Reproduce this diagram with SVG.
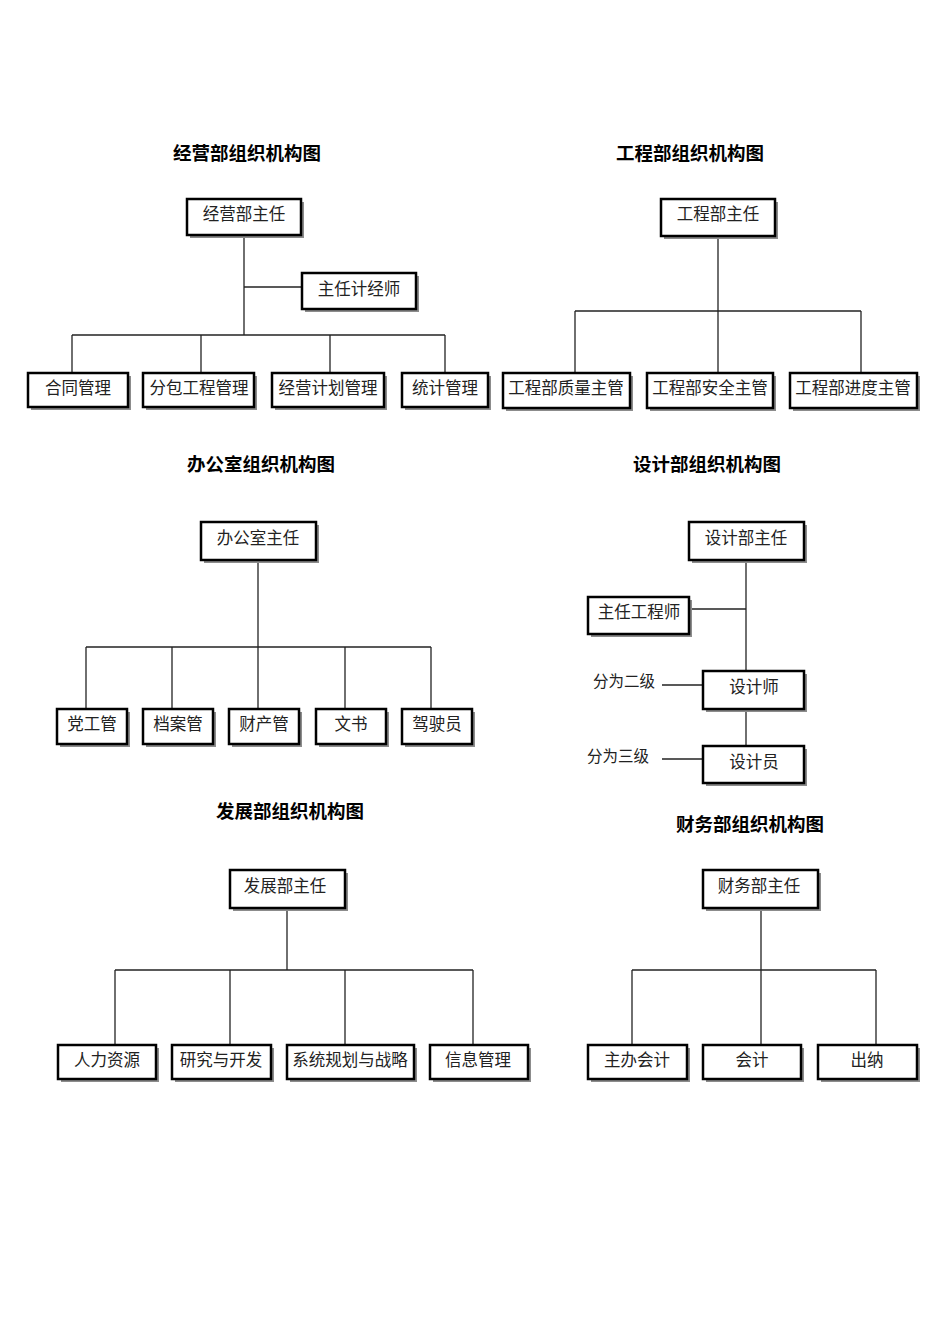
<svg xmlns="http://www.w3.org/2000/svg" width="950" height="1344" viewBox="0 0 950 1344">
<style>
.bg{fill:#ffffff}
.sh{fill:#8c8c8c}
.bx{fill:#ffffff;stroke:#000;stroke-width:2.5}
.t{font-family:"Liberation Serif","Noto Sans CJK SC",serif;font-size:16.5px;fill:#222;text-anchor:middle}
.ttl{font-family:"Noto Sans CJK SC",sans-serif;font-size:18.5px;font-weight:bold;fill:#000;text-anchor:middle}
.lb{font-family:"Liberation Serif","Noto Sans CJK SC",serif;font-size:15.5px;fill:#222;text-anchor:middle}
#connectors line{stroke:#222;stroke-width:1.3}
</style>
<rect class="bg" x="0" y="0" width="950" height="1344"/>

<g id="titles">
<text class="ttl" x="247" y="160">经营部组织机构图</text>
<text class="ttl" x="690" y="160">工程部组织机构图</text>
<text class="ttl" x="261" y="471">办公室组织机构图</text>
<text class="ttl" x="707" y="471">设计部组织机构图</text>
<text class="ttl" x="290" y="818">发展部组织机构图</text>
<text class="ttl" x="750" y="831">财务部组织机构图</text>
</g>

<g id="connectors">
<!-- 经营部 -->
<line x1="244" y1="235" x2="244" y2="335"/>
<line x1="244" y1="287" x2="302" y2="287"/>
<line x1="72" y1="335" x2="445" y2="335"/>
<line x1="72" y1="335" x2="72" y2="373"/>
<line x1="201" y1="335" x2="201" y2="373"/>
<line x1="330" y1="335" x2="330" y2="373"/>
<line x1="445" y1="335" x2="445" y2="373"/>
<!-- 工程部 -->
<line x1="718" y1="236" x2="718" y2="373"/>
<line x1="575" y1="311" x2="861" y2="311"/>
<line x1="575" y1="311" x2="575" y2="373"/>
<line x1="861" y1="311" x2="861" y2="373"/>
<!-- 办公室 -->
<line x1="258" y1="560" x2="258" y2="709"/>
<line x1="86" y1="647" x2="431" y2="647"/>
<line x1="86" y1="647" x2="86" y2="709"/>
<line x1="172" y1="647" x2="172" y2="709"/>
<line x1="345" y1="647" x2="345" y2="709"/>
<line x1="431" y1="647" x2="431" y2="709"/>
<!-- 设计部 -->
<line x1="746" y1="560" x2="746" y2="671"/>
<line x1="689" y1="609" x2="746" y2="609"/>
<line x1="746" y1="709" x2="746" y2="746"/>
<line x1="662" y1="685" x2="703" y2="685"/>
<line x1="662" y1="759" x2="703" y2="759"/>
<!-- 发展部 -->
<line x1="287" y1="908" x2="287" y2="970"/>
<line x1="115" y1="970" x2="473" y2="970"/>
<line x1="115" y1="970" x2="115" y2="1045"/>
<line x1="230" y1="970" x2="230" y2="1045"/>
<line x1="345" y1="970" x2="345" y2="1045"/>
<line x1="473" y1="970" x2="473" y2="1045"/>
<!-- 财务部 -->
<line x1="761" y1="908" x2="761" y2="1045"/>
<line x1="632" y1="970" x2="876" y2="970"/>
<line x1="632" y1="970" x2="632" y2="1045"/>
<line x1="876" y1="970" x2="876" y2="1045"/>
</g>

<!-- 经营部 nodes -->
<g id="jy-head"><rect class="sh" x="190" y="202" width="114" height="36"/><rect class="bx" x="187" y="199" width="114" height="36"/><text class="t" x="244" y="220">经营部主任</text></g>
<g id="jy-jjs"><rect class="sh" x="305" y="276" width="114" height="36"/><rect class="bx" x="302" y="273" width="114" height="36"/><text class="t" x="359" y="295">主任计经师</text></g>
<g id="jy-htgl"><rect class="sh" x="31" y="376" width="100" height="34"/><rect class="bx" x="28" y="373" width="100" height="34"/><text class="t" x="78" y="394">合同管理</text></g>
<g id="jy-fbgc"><rect class="sh" x="146" y="376" width="111" height="34"/><rect class="bx" x="143" y="373" width="111" height="34"/><text class="t" x="199" y="394">分包工程管理</text></g>
<g id="jy-jyjh"><rect class="sh" x="275" y="376" width="112" height="34"/><rect class="bx" x="272" y="373" width="112" height="34"/><text class="t" x="328" y="394">经营计划管理</text></g>
<g id="jy-tjgl"><rect class="sh" x="405" y="376" width="86" height="34"/><rect class="bx" x="402" y="373" width="86" height="34"/><text class="t" x="445" y="394">统计管理</text></g>

<!-- 工程部 nodes -->
<g id="gc-head"><rect class="sh" x="664" y="202" width="114" height="37"/><rect class="bx" x="661" y="199" width="114" height="37"/><text class="t" x="718" y="220">工程部主任</text></g>
<g id="gc-zl"><rect class="sh" x="506" y="376" width="127" height="35"/><rect class="bx" x="503" y="373" width="127" height="35"/><text class="t" x="566" y="394">工程部质量主管</text></g>
<g id="gc-aq"><rect class="sh" x="650" y="376" width="126" height="35"/><rect class="bx" x="647" y="373" width="126" height="35"/><text class="t" x="710" y="394">工程部安全主管</text></g>
<g id="gc-jd"><rect class="sh" x="793" y="376" width="127" height="35"/><rect class="bx" x="790" y="373" width="127" height="35"/><text class="t" x="853" y="394">工程部进度主管</text></g>

<!-- 办公室 nodes -->
<g id="bg-head"><rect class="sh" x="204" y="525" width="115" height="38"/><rect class="bx" x="201" y="522" width="115" height="38"/><text class="t" x="258" y="544">办公室主任</text></g>
<g id="bg-dg"><rect class="sh" x="60" y="712" width="70" height="35"/><rect class="bx" x="57" y="709" width="70" height="35"/><text class="t" x="92" y="730">党工管</text></g>
<g id="bg-da"><rect class="sh" x="146" y="712" width="70" height="35"/><rect class="bx" x="143" y="709" width="70" height="35"/><text class="t" x="178" y="730">档案管</text></g>
<g id="bg-cc"><rect class="sh" x="232" y="712" width="70" height="35"/><rect class="bx" x="229" y="709" width="70" height="35"/><text class="t" x="264" y="730">财产管</text></g>
<g id="bg-ws"><rect class="sh" x="319" y="712" width="70" height="35"/><rect class="bx" x="316" y="709" width="70" height="35"/><text class="t" x="351" y="730">文书</text></g>
<g id="bg-js"><rect class="sh" x="405" y="712" width="70" height="35"/><rect class="bx" x="402" y="709" width="70" height="35"/><text class="t" x="437" y="730">驾驶员</text></g>

<!-- 设计部 nodes -->
<g id="sj-head"><rect class="sh" x="692" y="525" width="115" height="38"/><rect class="bx" x="689" y="522" width="115" height="38"/><text class="t" x="746" y="544">设计部主任</text></g>
<g id="sj-zrgcs"><rect class="sh" x="591" y="600" width="101" height="37"/><rect class="bx" x="588" y="597" width="101" height="37"/><text class="t" x="639" y="618">主任工程师</text></g>
<g id="sj-sjs"><rect class="sh" x="706" y="674" width="101" height="38"/><rect class="bx" x="703" y="671" width="101" height="38"/><text class="t" x="754" y="693">设计师</text></g>
<g id="sj-sjy"><rect class="sh" x="706" y="749" width="101" height="37"/><rect class="bx" x="703" y="746" width="101" height="37"/><text class="t" x="754" y="768">设计员</text></g>
<g id="sj-labels"><text class="lb" x="624" y="687">分为二级</text><text class="lb" x="618" y="762">分为三级</text></g>

<!-- 发展部 nodes -->
<g id="fz-head"><rect class="sh" x="233" y="873" width="115" height="38"/><rect class="bx" x="230" y="870" width="115" height="38"/><text class="t" x="285" y="892">发展部主任</text></g>
<g id="fz-rl"><rect class="sh" x="61" y="1048" width="98" height="34"/><rect class="bx" x="58" y="1045" width="98" height="34"/><text class="t" x="107" y="1066">人力资源</text></g>
<g id="fz-yj"><rect class="sh" x="175" y="1048" width="99" height="34"/><rect class="bx" x="172" y="1045" width="99" height="34"/><text class="t" x="221" y="1066">研究与开发</text></g>
<g id="fz-xt"><rect class="sh" x="290" y="1048" width="127" height="34"/><rect class="bx" x="287" y="1045" width="127" height="34"/><text class="t" x="350" y="1066">系统规划与战略</text></g>
<g id="fz-xx"><rect class="sh" x="433" y="1048" width="98" height="34"/><rect class="bx" x="430" y="1045" width="98" height="34"/><text class="t" x="478" y="1066">信息管理</text></g>

<!-- 财务部 nodes -->
<g id="cw-head"><rect class="sh" x="706" y="873" width="115" height="38"/><rect class="bx" x="703" y="870" width="115" height="38"/><text class="t" x="759" y="892">财务部主任</text></g>
<g id="cw-zb"><rect class="sh" x="591" y="1048" width="99" height="34"/><rect class="bx" x="588" y="1045" width="99" height="34"/><text class="t" x="637" y="1066">主办会计</text></g>
<g id="cw-kj"><rect class="sh" x="706" y="1048" width="98" height="34"/><rect class="bx" x="703" y="1045" width="98" height="34"/><text class="t" x="752" y="1066">会计</text></g>
<g id="cw-cn"><rect class="sh" x="821" y="1048" width="99" height="34"/><rect class="bx" x="818" y="1045" width="99" height="34"/><text class="t" x="867" y="1066">出纳</text></g>
</svg>
